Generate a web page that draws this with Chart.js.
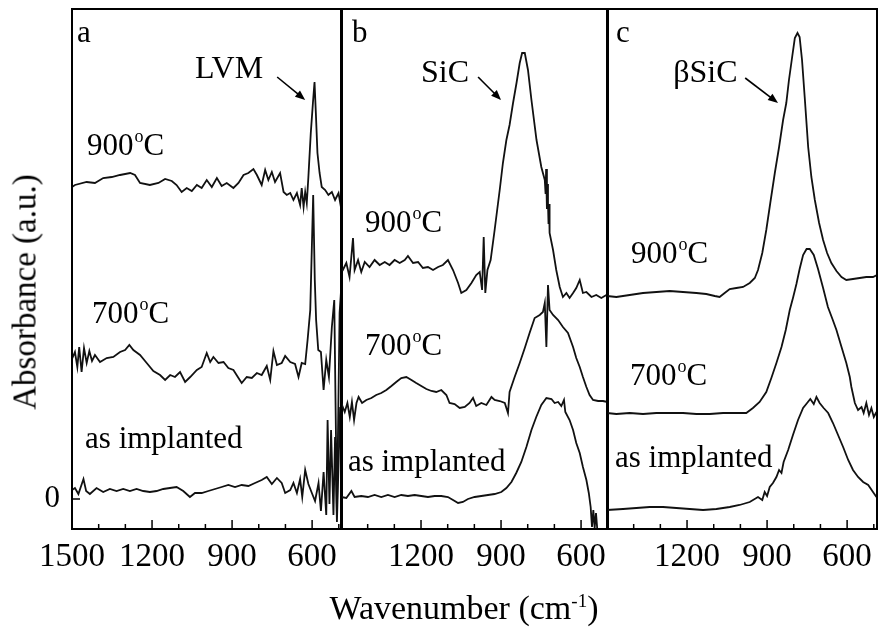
<!DOCTYPE html>
<html>
<head>
<meta charset="utf-8">
<script src="https://cdn.jsdelivr.net/npm/chart.js@4.4.1/dist/chart.umd.min.js"></script>
<style>
  body { margin: 0; background: #fff; }
  #wrap { position: relative; width: 879px; height: 628px; font-family: "Liberation Serif", serif; color: #000; }
  #wrap canvas { position: absolute; left: 0; top: 0; }
  #ytitle { position: absolute; left: 25px; top: 292px; transform: translate(-50%, -50%) rotate(-90deg); font-size: 33px; white-space: nowrap; }
  #xtitle { position: absolute; left: 464px; top: 591px; transform: translateX(-50%); font-size: 34px; line-height: 34px; white-space: nowrap; }
  #xtitle sup { font-size: 19px; line-height: 0; }
</style>
</head>
<body>
<div id="wrap">
  <canvas id="pa" width="879" height="628"></canvas>
  <canvas id="pb" width="879" height="628"></canvas>
  <canvas id="pc" width="879" height="628"></canvas>
  <div id="ytitle">Absorbance (a.u.)</div>
  <div id="xtitle">Wavenumber (cm<sup>-1</sup>)</div>
</div>
<script>
// ticks along the wavenumber axis (cm-1)
var tickValues = [1500, 1400, 1300, 1200, 1100, 1000, 900, 800, 700, 600, 500]
var labelsA = [1500, 1200, 900, 600]
var labelsBC = [1200, 900, 600]

// panel a
var aWn900 = [1500,1489,1445,1414,1383,1351,1320,1282,1264,1245,1208,1176,1151,1126,1108,1089,1070,1051,1032,1014,995,976,957,939,920,895,876,857,839,820,807,789,776,764,751,739,720,707,695,682,670,657,645,639,632,626,620,614,605,597,591,586,580,572,564,551,539,526,514,501,492,490,489]
var aAbs900 = [3.12,3.14,3.17,3.16,3.21,3.22,3.24,3.26,3.24,3.16,3.14,3.16,3.20,3.18,3.14,3.07,3.11,3.08,3.14,3.11,3.19,3.12,3.21,3.13,3.16,3.11,3.16,3.24,3.26,3.30,3.24,3.14,3.29,3.19,3.27,3.17,3.26,3.07,3.04,3.06,2.99,3.06,2.94,3.11,2.92,3.07,2.96,3.22,3.66,3.96,4.17,3.86,3.46,3.26,3.12,3.09,3.04,3.07,2.99,3.06,2.92,2.60,2.30]
var aWn700 = [1500,1489,1480,1473,1464,1455,1445,1435,1425,1414,1395,1370,1345,1320,1301,1285,1270,1245,1220,1195,1170,1151,1132,1114,1095,1076,1057,1032,1014,995,982,970,951,932,914,895,876,864,845,826,807,789,770,757,745,732,714,701,682,664,651,639,626,617,607,601,596,590,585,577,567,557,547,537,526,517,507,497,489]
var aAbs700 = [1.40,1.47,1.32,1.52,1.27,1.51,1.36,1.48,1.38,1.44,1.37,1.41,1.42,1.47,1.49,1.54,1.49,1.44,1.36,1.28,1.24,1.19,1.24,1.22,1.27,1.17,1.22,1.29,1.32,1.46,1.37,1.42,1.36,1.37,1.31,1.29,1.21,1.16,1.22,1.21,1.26,1.24,1.33,1.19,1.48,1.34,1.36,1.43,1.37,1.35,1.22,1.36,1.35,1.59,1.89,2.52,3.04,2.19,1.79,1.49,1.47,1.09,1.39,1.22,1.72,1.99,-0.14,1.86,2.19]
var aWnAs = [1500,1489,1476,1457,1447,1433,1408,1383,1358,1333,1308,1283,1258,1233,1208,1183,1158,1133,1108,1083,1058,1039,1014,989,964,939,914,889,864,839,814,789,770,751,732,714,701,682,670,657,645,637,626,614,601,589,576,567,557,547,542,535,529,520,514,507,495,488]
var aAbsAs = [0.09,0.11,0.05,0.20,0.08,0.05,0.11,0.07,0.10,0.08,0.10,0.08,0.10,0.08,0.07,0.08,0.10,0.11,0.12,0.08,0.02,0.06,0.06,0.08,0.10,0.12,0.14,0.12,0.14,0.13,0.16,0.19,0.22,0.15,0.21,0.16,0.06,0.09,0.16,0.06,0.20,0.02,0.29,0.15,0.06,-0.02,0.16,-0.12,0.27,-0.16,0.79,-0.05,0.69,-0.16,0.62,-0.23,0.92,-0.14]

// panel b
var bWn900 = [1500,1493,1480,1468,1455,1449,1436,1424,1411,1393,1374,1355,1336,1318,1299,1280,1261,1249,1230,1211,1193,1174,1155,1136,1118,1099,1080,1061,1049,1030,1011,993,980,971,965,959,951,939,924,905,893,880,868,855,842,830,821,811,799,786,767,749,736,733,731,728,726,724,722,720,718,705,693,680,668,655,643,630,618,605,593,580,561,543,524,505,490]
var bAbs900 = [2.30,2.29,2.36,2.22,2.61,2.29,2.39,2.27,2.37,2.32,2.39,2.34,2.37,2.34,2.39,2.36,2.39,2.43,2.36,2.37,2.31,2.32,2.29,2.32,2.34,2.39,2.29,2.16,2.06,2.09,2.16,2.24,2.27,2.09,2.62,2.06,2.29,2.39,2.69,3.09,3.36,3.59,3.74,3.96,4.16,4.36,4.46,4.46,4.29,3.99,3.59,3.32,3.19,3.05,3.30,2.90,3.15,2.96,2.75,2.95,2.66,2.49,2.29,2.12,2.02,2.06,2.01,2.06,2.11,2.19,2.06,2.07,2.02,2.04,2.01,2.04,2.02]
var bWn700 = [1499,1486,1476,1467,1459,1451,1442,1434,1421,1405,1386,1368,1349,1330,1311,1293,1274,1255,1236,1218,1199,1180,1161,1143,1124,1105,1093,1074,1055,1036,1018,1005,993,974,955,936,924,905,886,874,868,849,830,811,793,774,755,743,736,730,724,718,705,686,668,649,630,618,605,593,580,568,555,536,518,501,490]
var bAbs700 = [0.96,0.87,0.96,0.82,0.97,0.79,0.96,1.02,0.96,0.99,1.01,1.04,1.06,1.09,1.13,1.17,1.21,1.22,1.19,1.16,1.13,1.10,1.08,1.07,1.09,1.04,0.96,0.95,0.91,0.92,0.96,1.01,0.93,0.96,0.94,1.02,0.99,0.98,0.96,0.86,1.07,1.22,1.36,1.51,1.66,1.81,1.84,1.87,1.96,1.52,2.14,1.89,1.84,1.79,1.72,1.66,1.52,1.41,1.32,1.22,1.12,1.04,0.99,0.98,0.98,0.97,0.97]
var bWnAs = [1499,1480,1461,1449,1424,1399,1374,1349,1324,1299,1274,1249,1224,1199,1174,1149,1124,1099,1080,1061,1043,1024,999,974,949,924,899,880,861,843,824,805,786,768,749,730,711,699,686,674,664,659,643,630,618,605,593,580,571,564,559,554,549,544,539]
var bAbsAs = [0.02,0.01,0.08,0.02,0.03,0.02,0.04,0.02,0.04,0.02,0.04,0.03,0.04,0.03,0.02,0.03,0.03,0.02,-0.01,-0.04,-0.03,0.00,0.02,0.03,0.04,0.05,0.07,0.11,0.17,0.26,0.37,0.52,0.69,0.82,0.94,1.01,1.00,0.96,0.97,0.93,0.99,0.87,0.79,0.69,0.56,0.46,0.32,0.19,0.06,-0.08,-0.28,-0.11,-0.29,-0.14,-0.31]

// panel c
var cWn900 = [1500,1465,1415,1365,1315,1265,1215,1165,1128,1096,1078,1059,1040,1015,990,965,946,934,918,903,888,871,855,840,828,818,806,796,786,778,769,759,746,734,721,705,690,675,659,640,621,603,578,553,528,503,488]
var cAbs900 = [2.03,2.02,2.04,2.06,2.07,2.08,2.07,2.06,2.05,2.03,2.02,2.06,2.10,2.11,2.12,2.16,2.21,2.29,2.46,2.69,2.96,3.26,3.52,3.79,3.96,4.19,4.42,4.61,4.66,4.62,4.39,4.02,3.52,3.22,2.99,2.76,2.59,2.46,2.36,2.28,2.22,2.19,2.20,2.21,2.22,2.22,2.24]
var cWn700 = [1500,1465,1415,1365,1315,1265,1215,1165,1115,1065,1015,978,953,928,903,884,865,846,830,815,802,790,778,765,752,740,725,709,690,672,655,640,621,603,590,584,571,559,546,538,528,518,509,500,490]
var cAbs700 = [0.86,0.85,0.86,0.85,0.86,0.86,0.86,0.85,0.85,0.86,0.86,0.86,0.91,0.97,1.07,1.21,1.36,1.52,1.69,1.89,2.02,2.15,2.30,2.44,2.50,2.50,2.44,2.30,2.11,1.92,1.80,1.69,1.52,1.36,1.22,1.12,0.96,0.89,0.92,0.86,0.96,0.84,0.91,0.82,0.87]
var cWnAs = [1500,1440,1390,1340,1290,1240,1190,1140,1090,1040,1003,965,934,918,909,900,890,878,865,855,846,838,821,803,784,765,750,738,725,715,703,688,671,653,634,615,596,578,559,540,521,503,490]
var cAbsAs = [-0.11,-0.10,-0.09,-0.08,-0.08,-0.09,-0.10,-0.11,-0.10,-0.08,-0.06,-0.03,0.02,-0.01,0.07,0.03,0.12,0.16,0.22,0.29,0.26,0.37,0.49,0.64,0.79,0.91,0.96,1.00,0.95,1.02,0.96,0.91,0.86,0.76,0.64,0.52,0.39,0.29,0.22,0.17,0.14,0.07,0.02]

var FONT = '"Liberation Serif", serif'

function pts(wn, ab) {
	return wn.map(function (w, i) { return { x: w, y: ab[i] } })
}

function line(wn, ab) {
	return { data: pts(wn, ab), borderColor: '#111', borderWidth: 1.8, pointRadius: 0, tension: 0, fill: false }
}

// "900" + superscript o + "C"
function drawTemp(ctx, x, y, num) {
	ctx.font = '31px ' + FONT
	ctx.fillText(num, x, y)
	x += ctx.measureText(num).width + 1
	ctx.font = '18px ' + FONT
	ctx.fillText('o', x, y - 13)
	x += ctx.measureText('o').width
	ctx.font = '31px ' + FONT
	ctx.fillText('C', x, y)
}

function drawArrow(ctx, x1, y1, x2, y2) {
	var ang = Math.atan2(y2 - y1, x2 - x1)
	ctx.lineWidth = 1.6
	ctx.beginPath()
	ctx.moveTo(x1, y1)
	ctx.lineTo(x2 - 6 * Math.cos(ang), y2 - 6 * Math.sin(ang))
	ctx.stroke()
	ctx.beginPath()
	ctx.moveTo(x2, y2)
	ctx.lineTo(x2 - 10 * Math.cos(ang) + 4 * Math.sin(ang), y2 - 10 * Math.sin(ang) - 4 * Math.cos(ang))
	ctx.lineTo(x2 - 10 * Math.cos(ang) - 4 * Math.sin(ang), y2 - 10 * Math.sin(ang) + 4 * Math.cos(ang))
	ctx.closePath()
	ctx.fill()
}

//frame, inward ticks, labels
var decor = {
	id: 'decor',
	afterDraw: function (chart, args, opts) {
		var ctx = chart.ctx, ar = chart.chartArea
		var xs = chart.scales.x, ys = chart.scales.y
		ctx.save()
		ctx.strokeStyle = '#000'
		ctx.fillStyle = '#000'
		ctx.lineWidth = 2
		ctx.strokeRect(ar.left, ar.top, ar.right - ar.left, ar.bottom - ar.top)
		ctx.lineWidth = 1.5
		tickValues.forEach(function (v) {
			var px = xs.getPixelForValue(v)
			if (px < ar.left - 1 || px > ar.right + 1) return
			var len = v % 300 === 0 ? 9 : 5
			ctx.beginPath()
			ctx.moveTo(px, ar.bottom)
			ctx.lineTo(px, ar.bottom - len)
			ctx.stroke()
		})
		if (opts.zeroTick) {
			var py = ys.getPixelForValue(0)
			ctx.beginPath()
			ctx.moveTo(ar.left, py)
			ctx.lineTo(ar.left + 8, py)
			ctx.stroke()
		}
		ctx.textBaseline = 'alphabetic'
		ctx.textAlign = 'left'
		;(opts.texts || []).forEach(function (t) {
			var x = xs.getPixelForValue(t.wn), y = ys.getPixelForValue(t.abs)
			if (t.deg) {
				drawTemp(ctx, x, y, t.deg)
			} else {
				ctx.font = (t.size || 31) + 'px ' + FONT
				ctx.fillText(t.text, x, y)
			}
		})
		;(opts.arrows || []).forEach(function (a) {
			drawArrow(ctx, xs.getPixelForValue(a[0]), ys.getPixelForValue(a[1]), xs.getPixelForValue(a[2]), ys.getPixelForValue(a[3]))
		})
		ctx.restore()
	}
}

function panel(id, sets, xMin, pad, labels, showY, decorOpts) {
	return new Chart(document.getElementById(id), {
		type: 'line',
		data: { datasets: sets },
		options: {
			responsive: false,
			animation: false,
			events: [],
			layout: { padding: pad },
			plugins: { legend: { display: false }, tooltip: { enabled: false }, decor: decorOpts },
			scales: {
				x: {
					type: 'linear',
					reverse: true,
					min: xMin,
					max: 1500,
					afterBuildTicks: function (s) { s.ticks = tickValues.map(function (v) { return { value: v } }) },
					afterFit: function (s) { s.height = 99; s.paddingLeft = 0; s.paddingRight = 0 },
					grid: { display: false, drawTicks: false },
					border: { display: false },
					ticks: {
						autoSkip: false,
						maxRotation: 0,
						padding: 9,
						color: '#000',
						font: { family: FONT, size: 33 },
						callback: function (v) { return labels.indexOf(v) >= 0 ? String(v) : '' }
					}
				},
				y: {
					type: 'linear',
					display: showY,
					min: -0.3,
					max: 4.9,
					afterBuildTicks: function (s) { s.ticks = [{ value: 0 }] },
					afterFit: function (s) { s.width = showY ? 72 : 0; s.paddingTop = 0; s.paddingBottom = 0 },
					grid: { display: false, drawTicks: false },
					border: { display: false },
					ticks: {
						padding: 12,
						color: '#000',
						font: { family: FONT, size: 31 },
						callback: function () { return '0' }
					}
				}
			}
		},
		plugins: [decor]
	})
}

panel('pa', [line(aWn900, aAbs900), line(aWn700, aAbs700), line(aWnAs, aAbsAs)], 488,
	{ left: 0, top: 9, right: 879 - 342, bottom: 0 }, labelsA, true, {
		zeroTick: true,
		texts: [
			{ text: 'a', wn: 1481, abs: 4.57 },
			{ text: 'LVM', wn: 1039, abs: 4.21, size: 32 },
			{ deg: '900', wn: 1444, abs: 3.44 },
			{ deg: '700', wn: 1425, abs: 1.76 },
			{ text: 'as implanted', wn: 1451, abs: 0.51 }
		],
		arrows: [[731, 4.22, 626, 3.99]]
	})

panel('pb', [line(bWn900, bAbs900), line(bWn700, bAbs700), line(bWnAs, bAbsAs)], 499,
	{ left: 341, top: 9, right: 879 - 608, bottom: 0 }, labelsBC, false, {
		texts: [
			{ text: 'b', wn: 1459, abs: 4.57 },
			{ text: 'SiC', wn: 1200, abs: 4.17, size: 32 },
			{ deg: '900', wn: 1410, abs: 2.67 },
			{ deg: '700', wn: 1410, abs: 1.44 },
			{ text: 'as implanted', wn: 1474, abs: 0.28 }
		],
		arrows: [[986, 4.22, 900, 3.99]]
	})

panel('pc', [line(cWn900, cAbs900), line(cWn700, cAbs700), line(cWnAs, cAbsAs)], 488,
	{ left: 607, top: 9, right: 2, bottom: 0 }, labelsBC, false, {
		texts: [
			{ text: 'c', wn: 1466, abs: 4.57 },
			{ text: 'βSiC', wn: 1252, abs: 4.17, size: 32 },
			{ deg: '900', wn: 1410, abs: 2.36 },
			{ deg: '700', wn: 1414, abs: 1.14 },
			{ text: 'as implanted', wn: 1470, abs: 0.32 }
		],
		arrows: [[982, 4.21, 859, 3.96]]
	})
</script>
</body>
</html>
